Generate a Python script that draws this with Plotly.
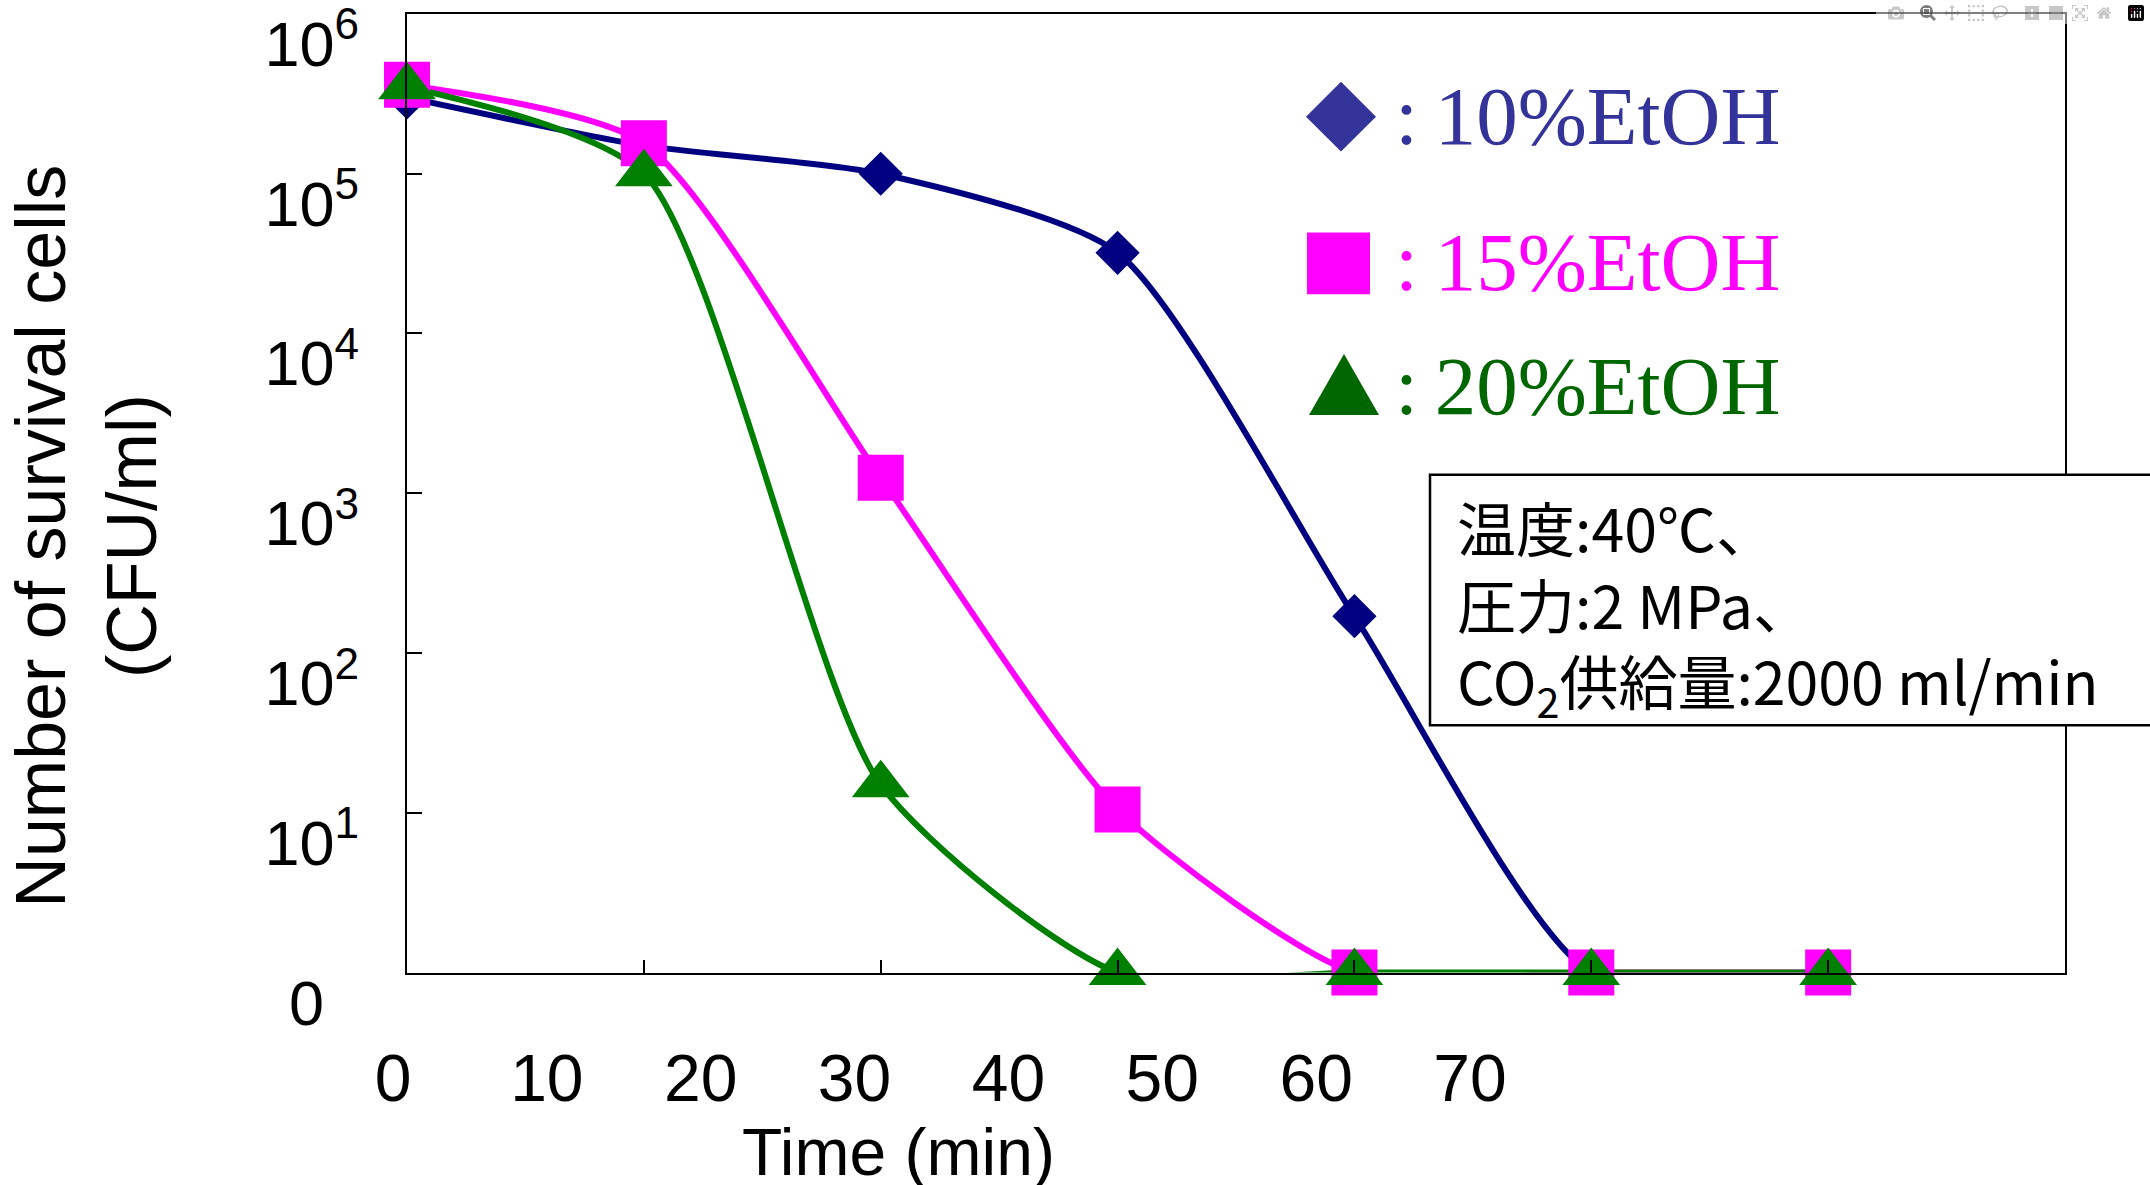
import plotly.graph_objects as go

# ---------------- data ----------------
time_min = [0, 10, 20, 30, 40, 50, 60]
etoh10 = [3.0e5, 1.5e5, 1.0e5, 3.2e4, 170, 1, 1]
etoh15 = [3.6e5, 1.55e5, 1.25e3, 10.5, 1, 1, 1]
etoh20 = [3.5e5, 1.0e5, 15, 1, 1, 1, 1]

series_names = ["10%EtOH", "15%EtOH", "20%EtOH"]

x_label_vals = [0, 10, 20, 30, 40, 50, 60, 70]
x_label_text = ["0", "10", "20", "30", "40", "50", "60", "70"]
y_label_vals = [1, 10, 100, 1e3, 1e4, 1e5, 1e6]
y_label_text = ["0\u00a0\u00a0", "10<sup>1</sup>", "10<sup>2</sup>", "10<sup>3</sup>",
                "10<sup>4</sup>", "10<sup>5</sup>", "10<sup>6</sup>"]
x_tick_marks = [10, 20, 30, 40, 50, 60]
y_tick_marks = [10, 100, 1e3, 1e4, 1e5]

cond_lines = ["温度:40℃、", "圧力:2 MPa、", "CO<sub>2</sub>供給量:2000 ml/min"]

x_title = "Time (min)"
y_title = "Number of survival cells<br>(CFU/ml)"

# ---------------- layout helpers ----------------
W, H = 2150, 1185
L, R, T, B = 407, 2065, 11, 972


def fx(p):
    return p / W


def fy(p):
    return 1 - p / H


line_cols = ["#000080", "#FF00FF", "#008000"]
legend_cols = ["#333399", "#FF00FF", "#006600"]
symbols = ["diamond", "square", "triangle-up"]
msizes = [34, 46, 50]
series = [etoh10, etoh15, etoh20]

NUM = "Liberation Sans, Arial, sans-serif"
SANS = "Liberation Sans, Arial, sans-serif"
SERIF = "Liberation Serif, Times New Roman, serif"
CJK = "Noto Sans CJK JP, sans-serif"

fig = go.Figure()

# lines first
for vals, col in zip(series, line_cols):
    fig.add_trace(go.Scatter(
        x=time_min, y=vals, mode="lines",
        line=dict(color=col, width=6, shape="spline", smoothing=0.65),
        showlegend=False, hoverinfo="skip", cliponaxis=True))

# markers on top
for vals, col, sym, ms, nm in zip(series, line_cols, symbols, msizes, series_names):
    fig.add_trace(go.Scatter(
        x=time_min, y=vals, mode="markers", name=nm,
        marker=dict(color=col, symbol=sym, size=ms, line=dict(width=0)),
        showlegend=False, cliponaxis=False))

# empty trace to host the label axes
fig.add_trace(go.Scatter(x=[], y=[], xaxis="x2", yaxis="y2",
                         showlegend=False, hoverinfo="skip"))

# label axes geometry
px_per_min_lbl = (1470 - 393) / 70.0
x2_r0 = -393 / px_per_min_lbl
x2_r1 = x2_r0 + W / px_per_min_lbl
px_per_dec = (B - T) / 6.0
lbl_off = 30
y2_a = -((H - B) - lbl_off) / px_per_dec
y2_b = y2_a + H / px_per_dec

frame = dict(showline=True, linecolor="black", linewidth=2, mirror=True,
             showgrid=False, zeroline=False)

fig.update_layout(
    width=W, height=H,
    margin=dict(l=0, r=0, t=0, b=0),
    paper_bgcolor="white", plot_bgcolor="rgba(0,0,0,0)",
    showlegend=False,
    xaxis=dict(domain=[fx(L), fx(R)], range=[0, 70], anchor="y",
               tickmode="array", tickvals=x_tick_marks, showticklabels=False,
               ticks="inside", ticklen=13, tickwidth=1.5, tickcolor="black", **frame),
    yaxis=dict(domain=[fy(B), fy(T)], type="log", range=[0, 6], anchor="x",
               tickmode="array", tickvals=y_tick_marks, showticklabels=False,
               ticks="inside", ticklen=15, tickwidth=1.5, tickcolor="black", **frame),
    xaxis2=dict(domain=[0, 1], anchor="free", position=fy(1034),
                range=[x2_r0, x2_r1], tickmode="array", tickvals=x_label_vals,
                ticktext=x_label_text, ticks="", showline=False, showgrid=False,
                zeroline=False, ticklabeloverflow="allow",
                tickfont=dict(family=NUM, size=66, color="black")),
    yaxis2=dict(domain=[0, 1], anchor="free", position=fx(L), side="left",
                type="log", range=[y2_a, y2_b], tickmode="array",
                tickvals=y_label_vals, ticktext=y_label_text, ticks="",
                showline=False, showgrid=False, zeroline=False,
                ticklabelstandoff=48, ticklabeloverflow="allow",
                tickfont=dict(family=NUM, size=63, color="black")),
)

annotations = []
# axis titles
annotations.append(dict(text=x_title, x=fx(898), y=fy(1152), xref="paper", yref="paper",
                        showarrow=False, xanchor="center", yanchor="middle",
                        font=dict(family=SANS, size=66, color="black")))
annotations.append(dict(text=y_title, x=fx(87), y=fy(535), xref="paper", yref="paper",
                        showarrow=False, xanchor="center", yanchor="middle", textangle=-90,
                        font=dict(family=SANS, size=70, color="black")))

# legend (manual, large keys)
legend_rows_y = [113, 260, 384]
for nm, col, ry in zip(series_names, legend_cols, legend_rows_y):
    annotations.append(dict(text=":\u2009" + nm, x=fx(1393), y=fy(ry), xref="paper", yref="paper",
                            showarrow=False, xanchor="left", yanchor="middle",
                            font=dict(family=SERIF, size=83, color=col)))

shapes = []
cx, cy, hw = 1341, 114, 35
shapes.append(dict(type="path", xref="paper", yref="paper", fillcolor=legend_cols[0],
                   line=dict(width=0),
                   path=f"M {fx(cx-hw)},{fy(cy)} L {fx(cx)},{fy(cy-hw)} L {fx(cx+hw)},{fy(cy)} L {fx(cx)},{fy(cy+hw)} Z"))
shapes.append(dict(type="rect", xref="paper", yref="paper", fillcolor=legend_cols[1],
                   line=dict(width=0), x0=fx(1307), x1=fx(1370), y0=fy(292), y1=fy(230)))
shapes.append(dict(type="path", xref="paper", yref="paper", fillcolor=legend_cols[2],
                   line=dict(width=0),
                   path=f"M {fx(1309)},{fy(413)} L {fx(1379)},{fy(413)} L {fx(1344)},{fy(352)} Z"))

# condition box
shapes.append(dict(type="rect", xref="paper", yref="paper", layer="above",
                   fillcolor="white", line=dict(color="black", width=2.5),
                   x0=fx(1430), x1=fx(2200), y0=fy(724), y1=fy(473)))
annotations.append(dict(text="<br>".join(cond_lines), x=fx(1455), y=fy(606),
                        xref="paper", yref="paper", align="left",
                        showarrow=False, xanchor="left", yanchor="middle",
                        font=dict(family=CJK, size=59, color="black")))

fig.update_layout(annotations=annotations, shapes=shapes)

fig.write_html("out.html",
               post_script="document.body.style.margin='0';document.body.style.overflow='hidden';")
